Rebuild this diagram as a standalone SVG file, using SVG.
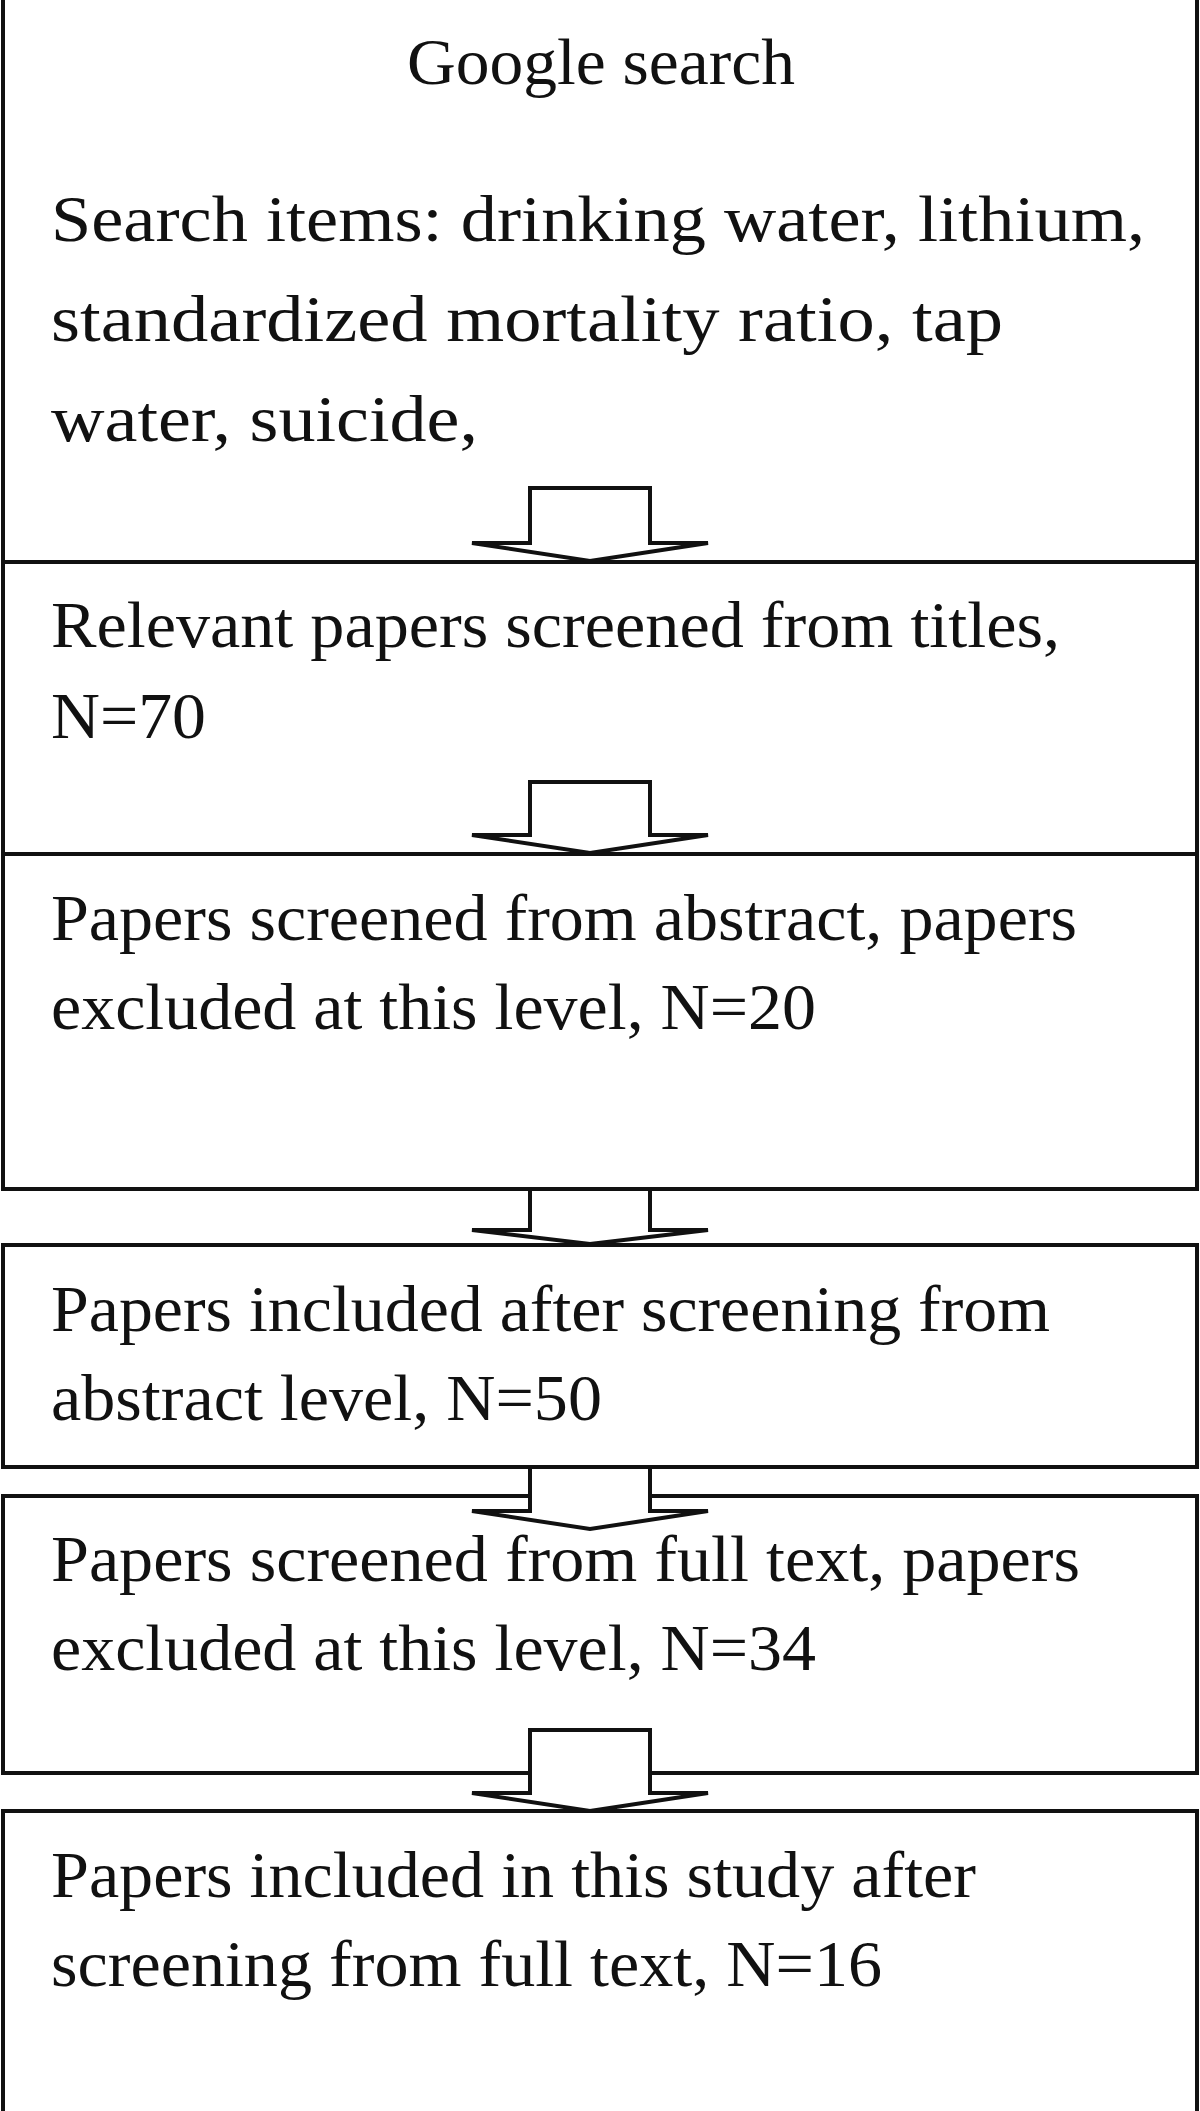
<svg xmlns="http://www.w3.org/2000/svg" width="1200" height="2111" viewBox="0 0 1200 2111">
<style>
.b{fill:#fff;stroke:#111;stroke-width:4}
.a{fill:#fff;stroke:#111;stroke-width:4;stroke-linejoin:miter}
text{font-family:"Liberation Serif","Times New Roman",serif;font-size:66px;fill:#111}
</style>
<rect width="1200" height="2111" fill="#fff"/>
<g id="n1"><rect class="b" x="3" y="-4" width="1194" height="566"/>
<text x="407" y="84" textLength="388" lengthAdjust="spacingAndGlyphs">Google search</text>
<text x="51" y="241" textLength="1094" lengthAdjust="spacingAndGlyphs">Search items: drinking water, lithium,</text>
<text x="51" y="341" textLength="952" lengthAdjust="spacingAndGlyphs">standardized mortality ratio, tap</text>
<text x="51" y="441" textLength="427" lengthAdjust="spacingAndGlyphs">water, suicide,</text></g>
<g id="n2"><rect class="b" x="3" y="562" width="1194" height="292"/>
<text x="51" y="647" textLength="1009" lengthAdjust="spacingAndGlyphs">Relevant papers screened from titles,</text>
<text x="51" y="738" textLength="155" lengthAdjust="spacingAndGlyphs">N=70</text></g>
<g id="n3"><rect class="b" x="3" y="854" width="1194" height="335"/>
<text x="51" y="940" textLength="1026" lengthAdjust="spacingAndGlyphs">Papers screened from abstract, papers</text>
<text x="51" y="1029" textLength="765" lengthAdjust="spacingAndGlyphs">excluded at this level, N=20</text></g>
<g id="n4"><rect class="b" x="3" y="1245" width="1194" height="222"/>
<text x="51" y="1331" textLength="999" lengthAdjust="spacingAndGlyphs">Papers included after screening from</text>
<text x="51" y="1420" textLength="551" lengthAdjust="spacingAndGlyphs">abstract level, N=50</text></g>
<g id="n5"><rect class="b" x="3" y="1496" width="1194" height="277"/>
<text x="51" y="1581" textLength="1029" lengthAdjust="spacingAndGlyphs">Papers screened from full text, papers</text>
<text x="51" y="1670" textLength="765" lengthAdjust="spacingAndGlyphs">excluded at this level, N=34</text></g>
<g id="n6"><rect class="b" x="3" y="1811" width="1194" height="304"/>
<text x="51" y="1897" textLength="925" lengthAdjust="spacingAndGlyphs">Papers included in this study after</text>
<text x="51" y="1986" textLength="831" lengthAdjust="spacingAndGlyphs">screening from full text, N=16</text></g>
<g id="connectors">
<polygon class="a" points="530,488 650,488 650,543 708,543 590,561 472,543 530,543"/>
<polygon class="a" points="530,782 650,782 650,835 708,835 590,853 472,835 530,835"/>
<polygon class="a" points="530,1189 650,1189 650,1230 708,1230 590,1244 472,1230 530,1230"/>
<polygon class="a" points="530,1467 650,1467 650,1511 708,1511 590,1529 472,1511 530,1511"/>
<polygon class="a" points="530,1730 650,1730 650,1793 708,1793 590,1811 472,1793 530,1793"/>
</g>
</svg>
